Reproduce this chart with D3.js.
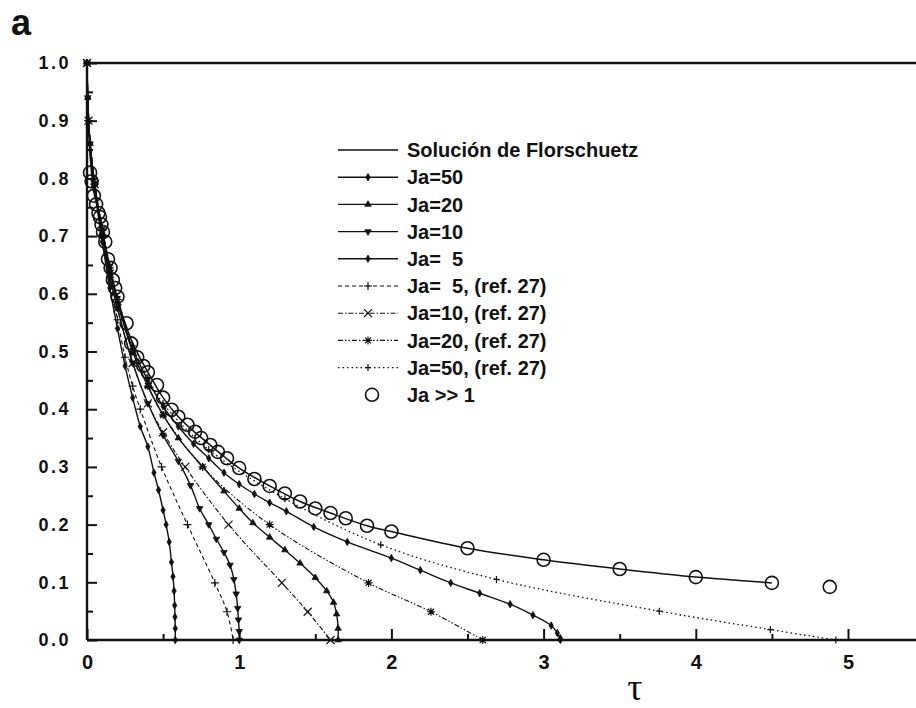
<!DOCTYPE html>
<html>
<head>
<meta charset="utf-8">
<script src="https://cdn.jsdelivr.net/npm/d3@7"></script>
<style>
  body { margin: 0; background: #fff; }
  text { font-family: "Liberation Sans", Arial, sans-serif; font-weight: bold; fill: #111; }
</style>
</head>
<body>
<script>
// Florschuetz solution (solid line) and Ja >> 1 points (circles)
const florTau = [0, 0.005, 0.01, 0.02, 0.03, 0.05, 0.085, 0.105, 0.138, 0.17, 0.195, 0.25, 0.3, 0.35, 0.4, 0.5, 0.6, 0.7, 0.8, 0.9, 1.0, 1.2, 1.4, 1.6, 1.84, 2.0, 2.5, 3.0, 3.5, 4.0, 4.5];
const florPhi = [1.0, 0.93, 0.89, 0.84, 0.81, 0.77, 0.736, 0.707, 0.659, 0.624, 0.595, 0.55, 0.515, 0.488, 0.464, 0.42, 0.387, 0.362, 0.34, 0.318, 0.298, 0.267, 0.24, 0.22, 0.198, 0.188, 0.159, 0.139, 0.123, 0.109, 0.099];

const circTau = [0.02, 0.03, 0.045, 0.06, 0.075, 0.085, 0.095, 0.105, 0.12, 0.138, 0.155, 0.17, 0.185, 0.2, 0.26, 0.29, 0.33, 0.37, 0.4, 0.46, 0.5, 0.556, 0.6, 0.66, 0.71, 0.75, 0.81, 0.86, 0.92, 1.0, 1.1, 1.2, 1.3, 1.4, 1.5, 1.6, 1.7, 1.84, 2.0, 2.5, 3.0, 3.5, 4.0, 4.5, 4.88];
const circPhi = [0.81, 0.795, 0.77, 0.755, 0.74, 0.733, 0.72, 0.707, 0.69, 0.66, 0.645, 0.624, 0.61, 0.595, 0.549, 0.514, 0.49, 0.475, 0.464, 0.442, 0.42, 0.399, 0.387, 0.373, 0.361, 0.35, 0.338, 0.326, 0.315, 0.298, 0.279, 0.267, 0.254, 0.24, 0.228, 0.22, 0.211, 0.198, 0.188, 0.159, 0.139, 0.123, 0.109, 0.099, 0.092];

// model curves
const ja50Tau = [0, 0.005, 0.02, 0.05, 0.1, 0.15, 0.2, 0.3, 0.4, 0.5, 0.6, 0.7, 0.8, 0.9, 1.0, 1.1, 1.2, 1.31, 1.49, 1.71, 2.0, 2.19, 2.39, 2.58, 2.78, 2.93, 3.05, 3.09, 3.11, 3.11];
const ja50Phi = [1, 0.94, 0.86, 0.79, 0.71, 0.645, 0.59, 0.505, 0.45, 0.405, 0.37, 0.34, 0.315, 0.29, 0.27, 0.253, 0.238, 0.223, 0.196, 0.17, 0.142, 0.121, 0.099, 0.081, 0.062, 0.043, 0.025, 0.012, 0.003, 0];

const ja20Tau = [0, 0.005, 0.02, 0.05, 0.1, 0.15, 0.2, 0.3, 0.4, 0.5, 0.6, 0.76, 0.9, 1.0, 1.09, 1.2, 1.3, 1.4, 1.5, 1.575, 1.62, 1.64, 1.65, 1.65];
const ja20Phi = [1, 0.94, 0.86, 0.79, 0.705, 0.64, 0.585, 0.5, 0.44, 0.39, 0.35, 0.3, 0.258, 0.228, 0.203, 0.178, 0.156, 0.133, 0.108, 0.085, 0.065, 0.045, 0.02, 0];

const ja10Tau = [0, 0.005, 0.02, 0.05, 0.1, 0.15, 0.2, 0.3, 0.4, 0.5, 0.6, 0.68, 0.74, 0.8, 0.85, 0.9, 0.94, 0.965, 0.98, 0.99, 0.995, 1.0, 1.0];
const ja10Phi = [1, 0.94, 0.86, 0.79, 0.7, 0.63, 0.575, 0.48, 0.41, 0.355, 0.31, 0.268, 0.228, 0.2, 0.175, 0.152, 0.13, 0.105, 0.08, 0.055, 0.035, 0.015, 0];

const ja5Tau = [0, 0.005, 0.02, 0.05, 0.1, 0.15, 0.2, 0.25, 0.3, 0.35, 0.4, 0.44, 0.47, 0.5, 0.52, 0.54, 0.555, 0.565, 0.572, 0.576, 0.578, 0.58, 0.58];
const ja5Phi = [1, 0.94, 0.86, 0.78, 0.69, 0.61, 0.54, 0.475, 0.42, 0.37, 0.335, 0.29, 0.26, 0.225, 0.2, 0.17, 0.135, 0.11, 0.085, 0.06, 0.04, 0.02, 0];

// ref. 27 curves
const ref5Tau = [0, 0.01, 0.05, 0.1, 0.15, 0.2, 0.25, 0.3, 0.35, 0.49, 0.66, 0.84, 0.92, 0.96];
const ref5Phi = [1, 0.9, 0.79, 0.7, 0.62, 0.555, 0.49, 0.44, 0.4, 0.3, 0.2, 0.099, 0.049, 0];

const ref10Tau = [0, 0.01, 0.05, 0.1, 0.15, 0.2, 0.3, 0.4, 0.5, 0.645, 0.93, 1.28, 1.45, 1.6];
const ref10Phi = [1, 0.9, 0.79, 0.705, 0.635, 0.575, 0.48, 0.41, 0.36, 0.3, 0.2, 0.099, 0.049, 0];

const ref20Tau = [0, 0.01, 0.05, 0.1, 0.15, 0.2, 0.3, 0.4, 0.5, 0.76, 1.2, 1.85, 2.26, 2.6];
const ref20Phi = [1, 0.9, 0.79, 0.71, 0.645, 0.59, 0.5, 0.44, 0.39, 0.3, 0.2, 0.099, 0.049, 0];

const ref50Tau = [0, 0.01, 0.05, 0.1, 0.15, 0.2, 0.3, 0.4, 0.5, 0.8, 1.3, 1.93, 2.69, 3.76, 4.49, 4.92];
const ref50Phi = [1, 0.9, 0.795, 0.715, 0.65, 0.595, 0.51, 0.455, 0.41, 0.33, 0.245, 0.165, 0.105, 0.05, 0.018, 0];

const xTicks = [0, 1, 2, 3, 4, 5];
const yTicks = [0, 0.1, 0.2, 0.3, 0.4, 0.5, 0.6, 0.7, 0.8, 0.9, 1.0];

const legendLabels = ["Solución de Florschuetz", "Ja=50", "Ja=20", "Ja=10", "Ja=  5",
  "Ja=  5, (ref. 27)", "Ja=10, (ref. 27)", "Ja=20, (ref. 27)", "Ja=50, (ref. 27)", "Ja >> 1"];

const W = 916, H = 708;
const svg = d3.select("body").append("svg").attr("width", W).attr("height", H);

const x = d3.scaleLinear().domain([0, 6]).range([87, 87 + 6 * 152.2]);
const y = d3.scaleLinear().domain([0, 1]).range([640, 63]);

const zip = (a, b) => a.map((t, i) => [t, b[i]]);
const line = d3.line().x(d => x(d[0])).y(d => y(d[1])).curve(d3.curveCatmullRom.alpha(0.5));

// marker shapes
const sym = (type, size) => d3.symbol().type(type).size(size)();
const shapes = {
  dot: { d: sym(d3.symbolDiamond, 16), fill: true },
  tri: { d: sym(d3.symbolTriangle, 18), fill: true },
  tridown: { d: sym(d3.symbolTriangle, 18), fill: true, rot: 180 },
  plus: { d: "M-4,0H4M0,-4V4", fill: false },
  cross: { d: "M-4,-4L4,4M-4,4L4,-4", fill: false },
  star: { d: "M-4,0H4M0,-4V4M-3,-3L3,3M-3,3L3,-3", fill: false },
  smallplus: { d: "M-3,0H3M0,-3.5V3.5", fill: false }
};

const series = [
  { pts: zip(florTau, florPhi), dash: null, w: 1.5, mark: null },
  { pts: zip(ja50Tau, ja50Phi), dash: null, w: 1.4, mark: "dot" },
  { pts: zip(ja20Tau, ja20Phi), dash: null, w: 1.4, mark: "tri" },
  { pts: zip(ja10Tau, ja10Phi), dash: null, w: 1.4, mark: "tridown" },
  { pts: zip(ja5Tau, ja5Phi), dash: null, w: 1.4, mark: "dot" },
  { pts: zip(ref5Tau, ref5Phi), dash: "4,3", w: 1.1, mark: "plus" },
  { pts: zip(ref10Tau, ref10Phi), dash: "5,2,1.5,2", w: 1.1, mark: "cross" },
  { pts: zip(ref20Tau, ref20Phi), dash: "5,2,1.5,2,1.5,2", w: 1.1, mark: "star" },
  { pts: zip(ref50Tau, ref50Phi), dash: "1.5,3", w: 1.3, mark: "smallplus" }
];

function drawMark(g, name, px, py) {
  const s = shapes[name];
  g.append("path")
    .attr("d", s.d)
    .attr("transform", `translate(${px},${py})` + (s.rot ? ` rotate(${s.rot})` : ""))
    .attr("fill", s.fill ? "#111" : "none")
    .attr("stroke", "#111")
    .attr("stroke-width", s.fill ? 0.8 : 1.2);
}

const plot = svg.append("g");
series.forEach(s => {
  plot.append("path")
    .datum(s.pts)
    .attr("d", line)
    .attr("fill", "none")
    .attr("stroke", "#111")
    .attr("stroke-width", s.w)
    .attr("stroke-dasharray", s.dash);
  if (s.mark) {
    const gm = plot.append("g");
    s.pts.forEach(p => drawMark(gm, s.mark, x(p[0]), y(p[1])));
  }
});

plot.selectAll("circle.ja")
  .data(zip(circTau, circPhi))
  .enter().append("circle")
  .attr("class", "ja")
  .attr("cx", d => x(d[0]))
  .attr("cy", d => y(d[1]))
  .attr("r", 6.5)
  .attr("fill", "none")
  .attr("stroke", "#111")
  .attr("stroke-width", 1.6);

// axes
const yMinor = d3.range(0.05, 1, 0.1);
const xMinor = d3.range(0.5, 6, 1);

const xAxis = svg.append("g").attr("transform", "translate(0,640)")
  .call(d3.axisBottom(x).tickValues(xTicks).tickSize(-11).tickPadding(15).tickFormat(d3.format("d")));
svg.append("g").attr("transform", "translate(0,640)")
  .call(d3.axisBottom(x).tickValues(xMinor).tickSize(-6).tickFormat(""));
const yAxis = svg.append("g").attr("transform", "translate(87,0)")
  .call(d3.axisLeft(y).tickValues(yTicks).tickSize(-10).tickPadding(16).tickFormat(d3.format(".1f")));
svg.append("g").attr("transform", "translate(87,0)")
  .call(d3.axisLeft(y).tickValues(yMinor).tickSize(-6).tickFormat(""));

svg.selectAll(".domain").remove();
svg.selectAll(".tick line").attr("stroke", "#111").attr("stroke-width", 2);
xAxis.selectAll("text").style("font-size", "20px");
yAxis.selectAll("text").style("font-size", "18px").style("letter-spacing", "2.5px");

// frame
svg.append("path")
  .attr("d", `M${x(0)},${y(0)}H${x(6)}M${x(0)},${y(0)}V${y(1)}H${x(6)}`)
  .attr("fill", "none").attr("stroke", "#111").attr("stroke-width", 2.4);

// legend
const lg = svg.append("g");
const legY0 = 150, legStep = 27.2;
legendLabels.forEach((lab, i) => {
  const ly = legY0 + i * legStep;
  if (i < 9) {
    const s = series[i];
    lg.append("line").attr("x1", 338).attr("x2", 398).attr("y1", ly).attr("y2", ly)
      .attr("stroke", "#111").attr("stroke-width", s.w).attr("stroke-dasharray", s.dash);
    if (s.mark) drawMark(lg, s.mark, 368, ly);
  } else {
    lg.append("circle").attr("cx", 372).attr("cy", ly).attr("r", 6.5)
      .attr("fill", "none").attr("stroke", "#111").attr("stroke-width", 1.6);
  }
  lg.append("text").attr("x", 407).attr("y", ly).attr("dy", "0.36em")
    .style("font-size", "20px").style("white-space", "pre").text(lab);
});

// panel letter and axis title
svg.append("text").attr("x", 11).attr("y", 35).style("font-size", "36px").text("a");
svg.append("text").attr("x", 635).attr("y", 700).attr("text-anchor", "middle")
  .style("font-family", "'Liberation Serif', 'DejaVu Serif', serif").style("font-weight", "normal")
  .style("font-size", "38px").text("τ");
</script>
</body>
</html>
